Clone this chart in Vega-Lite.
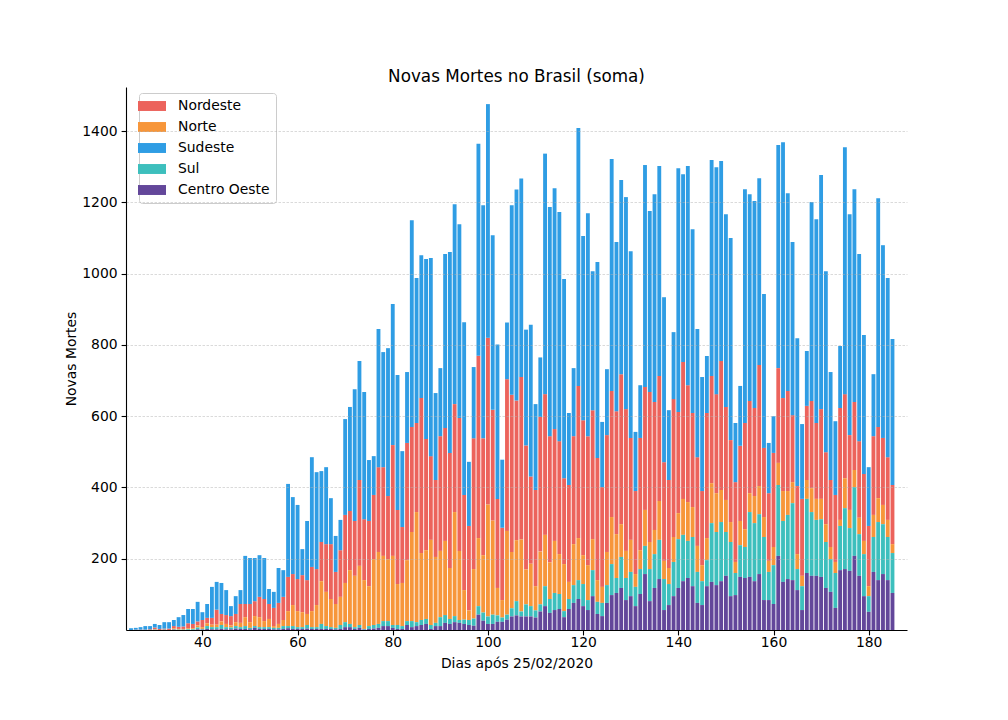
{
  "$schema": "https://vega.github.io/schema/vega-lite/v6.json",
  "width": 781,
  "height": 543,
  "autosize": "none",
  "padding": {"left": 126, "top": 87, "right": 101, "bottom": 90},
  "background": "white",
  "title": {"text": "Novas Mortes no Brasil (soma)", "fontSize": 16.8, "fontWeight": "normal", "font": "DejaVu Sans", "color": "black", "offset": 1},
  "data": {"values": [
{"dia":25,"Nordeste":0,"Norte":0,"Sudeste":5,"Sul":0,"Centro Oeste":0},
{"dia":26,"Nordeste":1,"Norte":0,"Sudeste":5,"Sul":0,"Centro Oeste":0},
{"dia":27,"Nordeste":1,"Norte":0,"Sudeste":7,"Sul":0,"Centro Oeste":0},
{"dia":28,"Nordeste":1,"Norte":0,"Sudeste":10,"Sul":0,"Centro Oeste":0},
{"dia":29,"Nordeste":2,"Norte":0,"Sudeste":9,"Sul":0,"Centro Oeste":0},
{"dia":30,"Nordeste":5,"Norte":1,"Sudeste":10,"Sul":1,"Centro Oeste":0},
{"dia":31,"Nordeste":3,"Norte":0,"Sudeste":11,"Sul":0,"Centro Oeste":0},
{"dia":32,"Nordeste":3,"Norte":0,"Sudeste":18,"Sul":1,"Centro Oeste":0},
{"dia":33,"Nordeste":4,"Norte":0,"Sudeste":18,"Sul":0,"Centro Oeste":0},
{"dia":34,"Nordeste":6,"Norte":3,"Sudeste":17,"Sul":1,"Centro Oeste":1},
{"dia":35,"Nordeste":6,"Norte":2,"Sudeste":27,"Sul":1,"Centro Oeste":0},
{"dia":36,"Nordeste":7,"Norte":2,"Sudeste":32,"Sul":1,"Centro Oeste":0},
{"dia":37,"Nordeste":14,"Norte":3,"Sudeste":40,"Sul":2,"Centro Oeste":0},
{"dia":38,"Nordeste":12,"Norte":3,"Sudeste":42,"Sul":2,"Centro Oeste":0},
{"dia":39,"Nordeste":11,"Norte":6,"Sudeste":55,"Sul":5,"Centro Oeste":2},
{"dia":40,"Nordeste":20,"Norte":5,"Sudeste":22,"Sul":2,"Centro Oeste":1},
{"dia":41,"Nordeste":15,"Norte":8,"Sudeste":39,"Sul":8,"Centro Oeste":3},
{"dia":42,"Nordeste":19,"Norte":7,"Sudeste":87,"Sul":6,"Centro Oeste":2},
{"dia":43,"Nordeste":42,"Norte":7,"Sudeste":78,"Sul":6,"Centro Oeste":2},
{"dia":44,"Nordeste":21,"Norte":10,"Sudeste":87,"Sul":11,"Centro Oeste":3},
{"dia":45,"Nordeste":25,"Norte":9,"Sudeste":70,"Sul":6,"Centro Oeste":2},
{"dia":46,"Nordeste":26,"Norte":6,"Sudeste":28,"Sul":5,"Centro Oeste":2},
{"dia":47,"Nordeste":23,"Norte":11,"Sudeste":50,"Sul":7,"Centro Oeste":4},
{"dia":48,"Nordeste":53,"Norte":12,"Sudeste":39,"Sul":5,"Centro Oeste":3},
{"dia":49,"Nordeste":37,"Norte":25,"Sudeste":135,"Sul":8,"Centro Oeste":3},
{"dia":50,"Nordeste":51,"Norte":16,"Sudeste":129,"Sul":4,"Centro Oeste":2},
{"dia":51,"Nordeste":42,"Norte":28,"Sudeste":121,"Sul":5,"Centro Oeste":6},
{"dia":52,"Nordeste":57,"Norte":28,"Sudeste":117,"Sul":5,"Centro Oeste":3},
{"dia":53,"Nordeste":62,"Norte":17,"Sudeste":115,"Sul":5,"Centro Oeste":3},
{"dia":54,"Nordeste":42,"Norte":23,"Sudeste":42,"Sul":5,"Centro Oeste":3},
{"dia":55,"Nordeste":51,"Norte":5,"Sudeste":45,"Sul":4,"Centro Oeste":2},
{"dia":56,"Nordeste":59,"Norte":11,"Sudeste":98,"Sul":4,"Centro Oeste":2},
{"dia":57,"Nordeste":65,"Norte":17,"Sudeste":75,"Sul":8,"Centro Oeste":3},
{"dia":58,"Nordeste":96,"Norte":42,"Sudeste":261,"Sul":6,"Centro Oeste":5},
{"dia":59,"Nordeste":87,"Norte":59,"Sudeste":216,"Sul":8,"Centro Oeste":3},
{"dia":60,"Nordeste":90,"Norte":45,"Sudeste":208,"Sul":5,"Centro Oeste":3},
{"dia":61,"Nordeste":104,"Norte":42,"Sudeste":73,"Sul":5,"Centro Oeste":3},
{"dia":62,"Nordeste":95,"Norte":31,"Sudeste":166,"Sul":10,"Centro Oeste":4},
{"dia":63,"Nordeste":124,"Norte":45,"Sudeste":308,"Sul":5,"Centro Oeste":3},
{"dia":64,"Nordeste":101,"Norte":62,"Sudeste":272,"Sul":5,"Centro Oeste":3},
{"dia":65,"Nordeste":110,"Norte":120,"Sudeste":199,"Sul":14,"Centro Oeste":3},
{"dia":66,"Nordeste":134,"Norte":96,"Sudeste":216,"Sul":8,"Centro Oeste":3},
{"dia":67,"Nordeste":154,"Norte":79,"Sudeste":129,"Sul":5,"Centro Oeste":3},
{"dia":68,"Nordeste":90,"Norte":67,"Sudeste":101,"Sul":4,"Centro Oeste":2},
{"dia":69,"Nordeste":131,"Norte":79,"Sudeste":85,"Sul":11,"Centro Oeste":3},
{"dia":70,"Nordeste":191,"Norte":110,"Sudeste":269,"Sul":14,"Centro Oeste":8},
{"dia":71,"Nordeste":166,"Norte":151,"Sudeste":292,"Sul":9,"Centro Oeste":8},
{"dia":72,"Nordeste":154,"Norte":144,"Sudeste":370,"Sul":5,"Centro Oeste":3},
{"dia":73,"Nordeste":241,"Norte":166,"Sudeste":334,"Sul":8,"Centro Oeste":6},
{"dia":74,"Nordeste":171,"Norte":137,"Sudeste":357,"Sul":2,"Centro Oeste":1},
{"dia":75,"Nordeste":183,"Norte":112,"Sudeste":171,"Sul":8,"Centro Oeste":3},
{"dia":76,"Nordeste":180,"Norte":185,"Sudeste":109,"Sul":10,"Centro Oeste":4},
{"dia":77,"Nordeste":238,"Norte":202,"Sudeste":388,"Sul":11,"Centro Oeste":6},
{"dia":78,"Nordeste":249,"Norte":183,"Sudeste":323,"Sul":14,"Centro Oeste":11},
{"dia":79,"Nordeste":177,"Norte":174,"Sudeste":415,"Sul":14,"Centro Oeste":11},
{"dia":80,"Nordeste":311,"Norte":194,"Sudeste":396,"Sul":8,"Centro Oeste":6},
{"dia":81,"Nordeste":208,"Norte":115,"Sudeste":379,"Sul":11,"Centro Oeste":3},
{"dia":82,"Nordeste":157,"Norte":121,"Sudeste":213,"Sul":8,"Centro Oeste":3},
{"dia":83,"Nordeste":329,"Norte":171,"Sudeste":199,"Sul":11,"Centro Oeste":14},
{"dia":84,"Nordeste":295,"Norte":250,"Sudeste":580,"Sul":17,"Centro Oeste":8},
{"dia":85,"Nordeste":250,"Norte":309,"Sudeste":407,"Sul":11,"Centro Oeste":11},
{"dia":86,"Nordeste":435,"Norte":188,"Sudeste":401,"Sul":14,"Centro Oeste":14},
{"dia":87,"Nordeste":312,"Norte":193,"Sudeste":505,"Sul":14,"Centro Oeste":17},
{"dia":88,"Nordeste":235,"Norte":239,"Sudeste":556,"Sul":11,"Centro Oeste":3},
{"dia":89,"Nordeste":216,"Norte":185,"Sudeste":244,"Sul":9,"Centro Oeste":11},
{"dia":90,"Nordeste":322,"Norte":186,"Sudeste":191,"Sul":25,"Centro Oeste":11},
{"dia":91,"Nordeste":317,"Norte":208,"Sudeste":488,"Sul":22,"Centro Oeste":20},
{"dia":92,"Nordeste":323,"Norte":143,"Sudeste":564,"Sul":14,"Centro Oeste":17},
{"dia":93,"Nordeste":303,"Norte":292,"Sudeste":561,"Sul":17,"Centro Oeste":22},
{"dia":94,"Nordeste":373,"Norte":194,"Sudeste":544,"Sul":8,"Centro Oeste":20},
{"dia":95,"Nordeste":267,"Norte":83,"Sudeste":485,"Sul":12,"Centro Oeste":17},
{"dia":96,"Nordeste":237,"Norte":27,"Sudeste":180,"Sul":14,"Centro Oeste":14},
{"dia":97,"Nordeste":367,"Norte":139,"Sudeste":200,"Sul":20,"Centro Oeste":12},
{"dia":98,"Nordeste":512,"Norte":191,"Sudeste":595,"Sul":24,"Centro Oeste":43},
{"dia":99,"Nordeste":328,"Norte":161,"Sudeste":654,"Sul":23,"Centro Oeste":26},
{"dia":100,"Nordeste":468,"Norte":314,"Sudeste":656,"Sul":21,"Centro Oeste":17},
{"dia":101,"Nordeste":311,"Norte":264,"Sudeste":490,"Sul":26,"Centro Oeste":17},
{"dia":102,"Nordeste":250,"Norte":77,"Sudeste":433,"Sul":18,"Centro Oeste":23},
{"dia":103,"Nordeste":203,"Norte":49,"Sudeste":191,"Sul":12,"Centro Oeste":23},
{"dia":104,"Nordeste":426,"Norte":235,"Sudeste":159,"Sul":14,"Centro Oeste":29},
{"dia":105,"Nordeste":441,"Norte":158,"Sudeste":532,"Sul":23,"Centro Oeste":38},
{"dia":106,"Nordeste":392,"Norte":171,"Sudeste":592,"Sul":40,"Centro Oeste":41},
{"dia":107,"Nordeste":456,"Norte":202,"Sudeste":557,"Sul":14,"Centro Oeste":38},
{"dia":108,"Nordeste":348,"Norte":98,"Sudeste":325,"Sul":34,"Centro Oeste":38},
{"dia":109,"Nordeste":245,"Norte":119,"Sudeste":426,"Sul":29,"Centro Oeste":38},
{"dia":110,"Nordeste":270,"Norte":68,"Sudeste":241,"Sul":20,"Centro Oeste":35},
{"dia":111,"Nordeste":378,"Norte":148,"Sudeste":167,"Sul":20,"Centro Oeste":52},
{"dia":112,"Nordeste":395,"Norte":144,"Sudeste":675,"Sul":56,"Centro Oeste":67},
{"dia":113,"Nordeste":354,"Norte":103,"Sudeste":643,"Sul":39,"Centro Oeste":48},
{"dia":114,"Nordeste":314,"Norte":146,"Sudeste":676,"Sul":48,"Centro Oeste":56},
{"dia":115,"Nordeste":317,"Norte":112,"Sudeste":643,"Sul":42,"Centro Oeste":59},
{"dia":116,"Nordeste":241,"Norte":132,"Sudeste":559,"Sul":17,"Centro Oeste":36},
{"dia":117,"Nordeste":272,"Norte":48,"Sudeste":202,"Sul":28,"Centro Oeste":59},
{"dia":118,"Nordeste":303,"Norte":115,"Sudeste":191,"Sul":50,"Centro Oeste":76},
{"dia":119,"Nordeste":427,"Norte":118,"Sudeste":724,"Sul":53,"Centro Oeste":87},
{"dia":120,"Nordeste":379,"Norte":81,"Sudeste":517,"Sul":62,"Centro Oeste":67},
{"dia":121,"Nordeste":362,"Norte":98,"Sudeste":626,"Sul":28,"Centro Oeste":56},
{"dia":122,"Nordeste":362,"Norte":87,"Sudeste":390,"Sul":73,"Centro Oeste":95},
{"dia":123,"Nordeste":343,"Norte":61,"Sudeste":550,"Sul":34,"Centro Oeste":45},
{"dia":124,"Nordeste":280,"Norte":45,"Sudeste":183,"Sul":37,"Centro Oeste":39},
{"dia":125,"Nordeste":328,"Norte":93,"Sudeste":185,"Sul":50,"Centro Oeste":76},
{"dia":126,"Nordeste":354,"Norte":132,"Sudeste":651,"Sul":87,"Centro Oeste":98},
{"dia":127,"Nordeste":345,"Norte":123,"Sudeste":475,"Sul":42,"Centro Oeste":104},
{"dia":128,"Nordeste":421,"Norte":92,"Sudeste":545,"Sul":87,"Centro Oeste":118},
{"dia":129,"Nordeste":398,"Norte":76,"Sudeste":595,"Sul":62,"Centro Oeste":84},
{"dia":130,"Nordeste":286,"Norte":90,"Sudeste":524,"Sul":68,"Centro Oeste":95},
{"dia":131,"Nordeste":233,"Norte":36,"Sudeste":166,"Sul":54,"Centro Oeste":67},
{"dia":132,"Nordeste":315,"Norte":53,"Sudeste":148,"Sul":70,"Centro Oeste":101},
{"dia":133,"Nordeste":345,"Norte":101,"Sudeste":623,"Sul":79,"Centro Oeste":157},
{"dia":134,"Nordeste":421,"Norte":76,"Sudeste":508,"Sul":90,"Centro Oeste":81},
{"dia":135,"Nordeste":359,"Norte":68,"Sudeste":583,"Sul":95,"Centro Oeste":118},
{"dia":136,"Nordeste":351,"Norte":109,"Sudeste":589,"Sul":110,"Centro Oeste":143},
{"dia":137,"Nordeste":277,"Norte":51,"Sudeste":463,"Sul":87,"Centro Oeste":56},
{"dia":138,"Nordeste":247,"Norte":45,"Sudeste":196,"Sul":59,"Centro Oeste":70},
{"dia":139,"Nordeste":387,"Norte":70,"Sudeste":188,"Sul":96,"Centro Oeste":95},
{"dia":140,"Nordeste":284,"Norte":73,"Sudeste":684,"Sul":137,"Centro Oeste":118},
{"dia":141,"Nordeste":384,"Norte":101,"Sudeste":527,"Sul":130,"Centro Oeste":137},
{"dia":142,"Nordeste":328,"Norte":109,"Sudeste":615,"Sul":104,"Centro Oeste":146},
{"dia":143,"Nordeste":264,"Norte":84,"Sudeste":516,"Sul":138,"Centro Oeste":123},
{"dia":144,"Nordeste":249,"Norte":73,"Sudeste":360,"Sul":87,"Centro Oeste":76},
{"dia":145,"Nordeste":208,"Norte":45,"Sudeste":320,"Sul":67,"Centro Oeste":70},
{"dia":146,"Nordeste":351,"Norte":62,"Sudeste":160,"Sul":73,"Centro Oeste":123},
{"dia":147,"Nordeste":301,"Norte":112,"Sudeste":606,"Sul":165,"Centro Oeste":135},
{"dia":148,"Nordeste":278,"Norte":109,"Sudeste":637,"Sul":149,"Centro Oeste":126},
{"dia":149,"Nordeste":362,"Norte":90,"Sudeste":561,"Sul":166,"Centro Oeste":137},
{"dia":150,"Nordeste":261,"Norte":90,"Sudeste":541,"Sul":123,"Centro Oeste":152},
{"dia":151,"Nordeste":230,"Norte":56,"Sudeste":567,"Sul":152,"Centro Oeste":95},
{"dia":152,"Nordeste":224,"Norte":31,"Sudeste":166,"Sul":62,"Centro Oeste":98},
{"dia":153,"Nordeste":211,"Norte":68,"Sudeste":168,"Sul":89,"Centro Oeste":149},
{"dia":154,"Nordeste":298,"Norte":50,"Sudeste":656,"Sul":87,"Centro Oeste":146},
{"dia":155,"Nordeste":259,"Norte":53,"Sudeste":580,"Sul":182,"Centro Oeste":149},
{"dia":156,"Nordeste":247,"Norte":76,"Sudeste":581,"Sul":163,"Centro Oeste":137},
{"dia":157,"Nordeste":340,"Norte":79,"Sudeste":524,"Sul":168,"Centro Oeste":157},
{"dia":158,"Nordeste":194,"Norte":56,"Sudeste":432,"Sul":177,"Centro Oeste":84},
{"dia":159,"Nordeste":190,"Norte":31,"Sudeste":141,"Sul":79,"Centro Oeste":84},
{"dia":160,"Nordeste":264,"Norte":51,"Sudeste":103,"Sul":109,"Centro Oeste":73},
{"dia":161,"Nordeste":266,"Norte":62,"Sudeste":626,"Sul":199,"Centro Oeste":208},
{"dia":162,"Nordeste":261,"Norte":84,"Sudeste":718,"Sul":171,"Centro Oeste":135},
{"dia":163,"Nordeste":281,"Norte":67,"Sudeste":555,"Sul":180,"Centro Oeste":143},
{"dia":164,"Nordeste":188,"Norte":59,"Sudeste":486,"Sul":216,"Centro Oeste":140},
{"dia":165,"Nordeste":191,"Norte":42,"Sudeste":415,"Sul":59,"Centro Oeste":112},
{"dia":166,"Nordeste":216,"Norte":29,"Sudeste":210,"Sul":67,"Centro Oeste":56},
{"dia":167,"Nordeste":208,"Norte":53,"Sudeste":154,"Sul":208,"Centro Oeste":160},
{"dia":168,"Nordeste":245,"Norte":67,"Sudeste":558,"Sul":179,"Centro Oeste":152},
{"dia":169,"Nordeste":213,"Norte":59,"Sudeste":572,"Sul":157,"Centro Oeste":152},
{"dia":170,"Nordeste":252,"Norte":57,"Sudeste":657,"Sul":162,"Centro Oeste":149},
{"dia":171,"Nordeste":202,"Norte":50,"Sudeste":508,"Sul":129,"Centro Oeste":118},
{"dia":172,"Nordeste":188,"Norte":34,"Sudeste":303,"Sul":92,"Centro Oeste":107},
{"dia":173,"Nordeste":188,"Norte":31,"Sudeste":207,"Sul":98,"Centro Oeste":62},
{"dia":174,"Nordeste":314,"Norte":17,"Sudeste":174,"Sul":124,"Centro Oeste":168},
{"dia":175,"Nordeste":236,"Norte":84,"Sudeste":693,"Sul":171,"Centro Oeste":171},
{"dia":176,"Nordeste":210,"Norte":51,"Sudeste":620,"Sul":120,"Centro Oeste":166},
{"dia":177,"Nordeste":191,"Norte":48,"Sudeste":597,"Sul":193,"Centro Oeste":208},
{"dia":178,"Nordeste":215,"Norte":46,"Sudeste":525,"Sul":117,"Centro Oeste":152},
{"dia":179,"Nordeste":188,"Norte":37,"Sudeste":390,"Sul":118,"Centro Oeste":95},
{"dia":180,"Nordeste":169,"Norte":28,"Sudeste":165,"Sul":44,"Centro Oeste":51},
{"dia":181,"Nordeste":221,"Norte":62,"Sudeste":174,"Sul":98,"Centro Oeste":163},
{"dia":182,"Nordeste":200,"Norte":67,"Sudeste":642,"Sul":163,"Centro Oeste":140},
{"dia":183,"Nordeste":188,"Norte":54,"Sudeste":541,"Sul":140,"Centro Oeste":157},
{"dia":184,"Nordeste":176,"Norte":48,"Sudeste":503,"Sul":121,"Centro Oeste":140},
{"dia":185,"Nordeste":166,"Norte":25,"Sudeste":410,"Sul":112,"Centro Oeste":104}
  ]},
  "transform": [
    {"fold": ["Nordeste", "Norte", "Sudeste", "Sul", "Centro Oeste"], "as": ["regiao", "mortes"]},
    {"calculate": "indexof(['Centro Oeste','Sul','Norte','Nordeste','Sudeste'], datum.regiao)", "as": "ordem"}
  ],
  "mark": {"type": "bar", "size": 3.86, "clip": true, "strokeWidth": 0},
  "encoding": {
    "x": {
      "field": "dia", "type": "quantitative",
      "scale": {"domain": [25, 187], "nice": false, "zero": false},
      "axis": {"values": [40, 60, 80, 100, 120, 140, 160, 180], "format": "d", "grid": false, "title": "Dias após 25/02/2020", "labelPadding": 1, "titlePadding": 7}
    },
    "y": {
      "field": "mortes", "type": "quantitative", "stack": "zero",
      "scale": {"domain": [0, 1524], "nice": false},
      "axis": {"values": [200, 400, 600, 800, 1000, 1200, 1400], "format": "d", "grid": true, "title": "Novas Mortes", "labelPadding": 4, "titlePadding": 3, "zindex": 1}
    },
    "color": {
      "field": "regiao", "type": "nominal",
      "scale": {"domain": ["Nordeste", "Norte", "Sudeste", "Sul", "Centro Oeste"], "range": ["#EC635C", "#F7963A", "#2F9DE4", "#3DBFBD", "#63479A"]},
      "legend": {
        "title": null, "orient": "none", "legendX": 13, "legendY": 6,
        "symbolType": "M-2,-0.71H2V0.71H-2Z", "symbolSize": 196, "symbolStrokeWidth": 0,
        "labelFontSize": 13.9, "labelColor": "black", "labelFont": "DejaVu Sans", "labelOffset": 19,
        "rowPadding": 7, "padding": 6, "fillColor": "white", "strokeColor": "#cccccc", "cornerRadius": 3
      }
    },
    "order": {"field": "ordem", "type": "quantitative", "sort": "ascending"}
  },
  "config": {
    "view": {"stroke": null},
    "font": "DejaVu Sans",
    "axis": {
      "domainColor": "black", "domainWidth": 1.1, "tickColor": "black", "tickWidth": 1.1, "tickSize": 4.9,
      "labelFontSize": 13.9, "labelColor": "black", "labelFont": "DejaVu Sans",
      "titleFontSize": 13.9, "titleFontWeight": "normal", "titleColor": "black", "titleFont": "DejaVu Sans",
      "gridColor": "#b0b0b0", "gridDash": [2.5, 1.5], "gridWidth": 0.6, "gridOpacity": 0.8
    }
  }
}
